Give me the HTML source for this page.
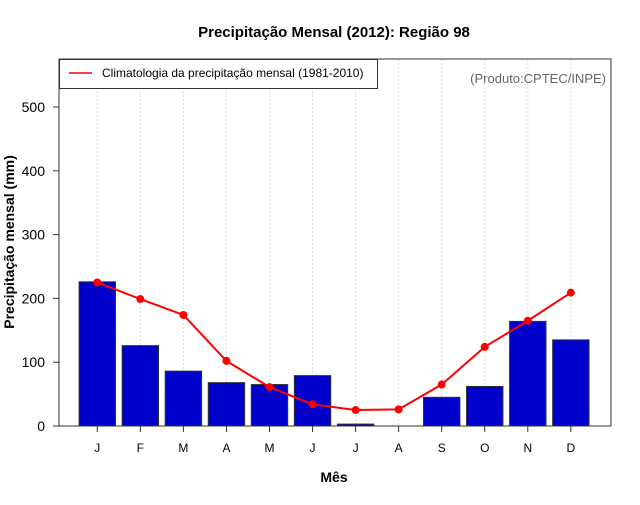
<!DOCTYPE html>
<html><head><meta charset="utf-8"><style>
body{margin:0;background:#fff;font-family:"Liberation Sans",sans-serif}
</style></head><body>
<svg id="c" width="640" height="500" xmlns="http://www.w3.org/2000/svg" font-family="Liberation Sans, sans-serif">
<text x="334" y="37" text-anchor="middle" font-size="15" font-weight="bold">Precipitação Mensal (2012): Região 98</text>
<text x="334" y="482" text-anchor="middle" font-size="14" font-weight="bold">Mês</text>
<text transform="translate(14,242) rotate(-90)" text-anchor="middle" font-size="14" font-weight="bold">Precipitação mensal (mm)</text>
<g id="grid"></g><g id="bars"></g><g id="line"></g><g id="axes"></g>
<rect x="59" y="59" width="552" height="367" fill="none" stroke="#333" stroke-width="1"/>
<g>
<rect x="59.5" y="59.5" width="318" height="29" fill="#fff" stroke="#333"/>
<line x1="69" y1="73" x2="92" y2="73" stroke="red" stroke-width="1.5"/>
<text x="102" y="77" font-size="12">Climatologia da precipitação mensal (1981-2010)</text>
</g>
<text x="606" y="83" text-anchor="end" font-size="13" fill="#666">(Produto:CPTEC/INPE)</text>
</svg>
<script>
const months=["J","F","M","A","M","J","J","A","S","O","N","D"];
const observed=[226,126,86,68,65,79,3,0,45,62,164,135];
const climatology=[225,199,174,102,61,34,25,26,65,124,165,209];
const yTicks=[0,100,200,300,400,500];
const NS="http://www.w3.org/2000/svg";
const svg=document.getElementById('c');
const xc=i=>97.3+i*43.05;
const y=v=>426-v*0.638;
function mk(t,a,p){const e=document.createElementNS(NS,t);for(const k in a)e.setAttribute(k,a[k]);document.getElementById(p).appendChild(e);return e;}
months.forEach((m,i)=>{
 let g=mk('line',{x1:xc(i),x2:xc(i),y1:59,y2:426,stroke:'#ddd','stroke-dasharray':'2,2'},'grid');
 
 
 let b=mk('rect',{x:xc(i)-18.2,y:y(observed[i]),width:36.4,height:observed[i]*0.638,fill:'#0000cd',stroke:'#333','stroke-width':1},'bars');
 
 
 let tk=mk('line',{x1:xc(i),x2:xc(i),y1:426,y2:432,stroke:'#333'},'axes');
 
 
 let tl=mk('text',{x:xc(i),y:452,'text-anchor':'middle','font-size':12},'axes');
 tl.textContent=m;
 
 
});
let pl=mk('polyline',{points:climatology.map((v,i)=>xc(i)+','+y(v)).join(' '),fill:'none',stroke:'red','stroke-width':2},'line');


climatology.forEach((v,i)=>{
 let c=mk('circle',{cx:xc(i),cy:y(v),r:4,fill:'red'},'line');
 
 
});
let ax=mk('line',{x1:59,x2:59,y1:y(0),y2:y(500),stroke:'#333'},'axes');


yTicks.forEach(v=>{
 let t=mk('line',{x1:53,x2:59,y1:y(v),y2:y(v),stroke:'#333'},'axes');
 
 
 let l=mk('text',{x:45,y:y(v)+5,'text-anchor':'end','font-size':14},'axes');
 l.textContent=v;
 
 
});
</script>
</body></html>
